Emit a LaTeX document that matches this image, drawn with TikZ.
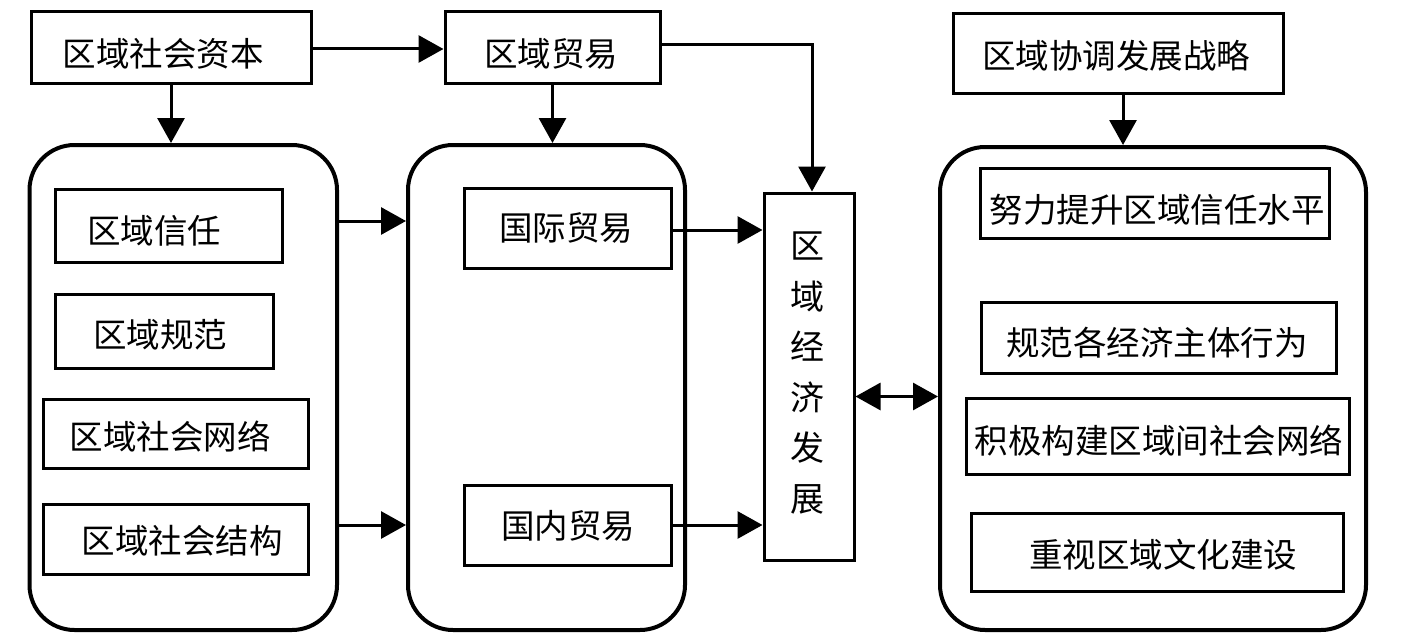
\documentclass[tikz,border=0pt]{standalone}
\usepackage{fontspec}
\setmainfont{Noto Sans CJK SC}
\usetikzlibrary{arrows.meta,calc}
\begin{document}
\begin{tikzpicture}[x=1pt,y=-1pt,
  box/.style={draw,line width=3pt,inner sep=0pt},
  rbox/.style={draw,line width=4pt,rounded corners=45pt,inner sep=0pt},
  txt/.style={inner sep=0pt,font=\fontsize{33.5}{38}\selectfont},
  arr/.style={line width=3pt,-{Triangle[length=25pt,width=27pt]}},
  darr/.style={line width=3pt,{Triangle[length=25pt,width=27pt]}-{Triangle[length=25pt,width=27pt]}}]
\useasboundingbox (0,0) rectangle (1418,642);
% top boxes
\node[box,minimum width=280pt,minimum height=71pt] (sc) at (171,47.5) {};
\node[txt] (tsc) at (163,54) {区域社会资本};
\node[box,minimum width=215pt,minimum height=71pt] (mt) at (552.5,47.5) {};
\node[txt] (tmt) at (551,54) {区域贸易};
\node[box,minimum width=330pt,minimum height=79pt] (st) at (1118,53.5) {};
\node[txt] (tst) at (1116,56) {区域协调发展战略};
% rounded containers
\node[rbox,minimum width=307.5pt,minimum height=485pt] (lrb) at (183.25,387.5) {};
\node[rbox,minimum width=277pt,minimum height=485pt] (mrb) at (546.5,387.5) {};
\node[rbox,minimum width=426pt,minimum height=483pt] (rrb) at (1153,388.5) {};
% left inner boxes
\node[box,minimum width=227pt,minimum height=73pt] (xr) at (168.5,225.5) {};
\node[txt] (txr) at (154,231) {区域信任};
\node[box,minimum width=218pt,minimum height=74pt] (gf) at (164,331) {};
\node[txt] (tgf) at (160,335) {区域规范};
\node[box,minimum width=265pt,minimum height=69pt] (wl) at (175.5,433.5) {};
\node[txt] (twl) at (170,437) {区域社会网络};
\node[box,minimum width=265pt,minimum height=70pt] (jg) at (175.5,539) {};
\node[txt] (tjg) at (182,541) {区域社会结构};
% middle inner boxes
\node[box,minimum width=207pt,minimum height=80pt] (gj) at (567.5,228) {};
\node[txt] (tgj) at (566,228) {国际贸易};
\node[box,minimum width=207pt,minimum height=80pt] (gn) at (567.5,525) {};
\node[txt] (tgn) at (568,526) {国内贸易};
% economy
\node[box,minimum width=90pt,minimum height=367pt] (eco) at (809,376.5) {};
\node[inner sep=0pt,align=center,font=\fontsize{34}{50.5}\selectfont] (teco) at (807,373) {区\\域\\经\\济\\发\\展};
% right inner boxes
\node[box,minimum width=349pt,minimum height=70pt] (r1) at (1154.5,203) {};
\node[txt] (tr1) at (1157,210) {努力提升区域信任水平};
\node[box,minimum width=355pt,minimum height=71pt] (r2) at (1158.5,337.5) {};
\node[txt] (tr2) at (1157,343) {规范各经济主体行为};
\node[box,minimum width=383pt,minimum height=76pt] (r3) at (1157.5,436) {};
\node[txt] (tr3) at (1159,441) {积极构建区域间社会网络};
\node[box,minimum width=372pt,minimum height=78pt] (r4) at (1157,552) {};
\node[txt] (tr4) at (1163,555) {重视区域文化建设};
% connectors
\draw[arr] ([yshift=-1.5pt]sc.east) -- ([yshift=-1.5pt]mt.west);
\draw[arr] (sc.south) -- (sc.south |- lrb.north);
\draw[arr] (mt.south) -- (mt.south |- mrb.north);
\draw[arr] ([yshift=2.5pt]mt.east) -| ([xshift=3pt]eco.north);
\draw[arr] ([yshift=7pt]lrb.east |- gj.west) -- ([yshift=7pt]mrb.west |- gj.west);
\draw[arr] (lrb.east |- gn.west) -- (mrb.west |- gn.west);
\draw[arr] ([yshift=-2pt]gj.east) -- ([yshift=-2pt]gj.east -| eco.west);
\draw[arr] (gn.east) -- (gn.east -| eco.west);
\draw[arr] ([xshift=5pt]st.south) -- ([xshift=5pt]st.south |- rrb.north);
\draw[darr] ([yshift=-20pt]eco.east) -- ([yshift=-20pt]eco.east -| rrb.west);
\end{tikzpicture}
\end{document}
